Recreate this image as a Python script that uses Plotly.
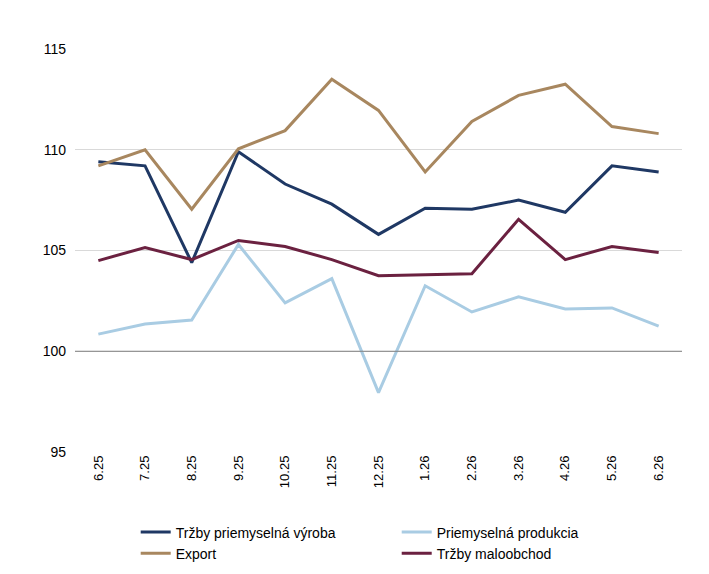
import plotly.graph_objects as go

months = ["6.25","7.25","8.25","9.25","10.25","11.25","12.25","1.26","2.26","3.26","4.26","5.26","6.26"]
trzby_vyroba = [109.4,109.2,104.4,109.9,108.3,107.3,105.8,107.1,107.05,107.5,106.9,109.2,108.9]
produkcia = [100.85,101.35,101.55,105.3,102.4,103.6,97.95,103.25,101.95,102.7,102.1,102.15,101.25]
export = [109.2,110.0,107.05,110.05,110.95,113.5,111.95,108.9,111.4,112.7,113.25,111.15,110.8]
maloobchod = [104.5,105.15,104.55,105.5,105.2,104.55,103.75,103.8,103.85,106.55,104.55,105.2,104.9]

series = [("Tržby priemyselná výroba", trzby_vyroba, "#1f3864"),
          ("Priemyselná produkcia", produkcia, "#a9cce3"),
          ("Export", export, "#a8875f"),
          ("Tržby maloobchod", maloobchod, "#6b2140")]

fig = go.Figure()
for name, vals, col in series:
    fig.add_trace(go.Scatter(x=months, y=vals, name=name, mode="lines",
                             line=dict(color=col, width=3)))
fig.add_hline(y=100, line=dict(color="#808080", width=1))
fig.update_layout(
    width=709, height=574, plot_bgcolor="white", paper_bgcolor="white",
    margin=dict(l=67, r=35, t=41, b=130),
    font=dict(family="Liberation Sans, Arial", size=14, color="black"),
    xaxis=dict(type="category", range=[-0.5, 12.5], tickangle=-90, showgrid=False, ticks="",
               tickfont=dict(size=13), automargin=False),
    yaxis=dict(range=[95, 115], dtick=5, gridcolor="#d9d9d9", zeroline=False, ticks="",
               tickfont=dict(size=14), automargin=False, ticklabelstandoff=8),
    legend=dict(orientation="h", x=0.1, y=-0.16, xanchor="left", yanchor="top",
                entrywidthmode="fraction", entrywidth=0.43, font=dict(size=14),
                tracegroupgap=0),
    showlegend=True,
)
fig.write_html("out.html")
